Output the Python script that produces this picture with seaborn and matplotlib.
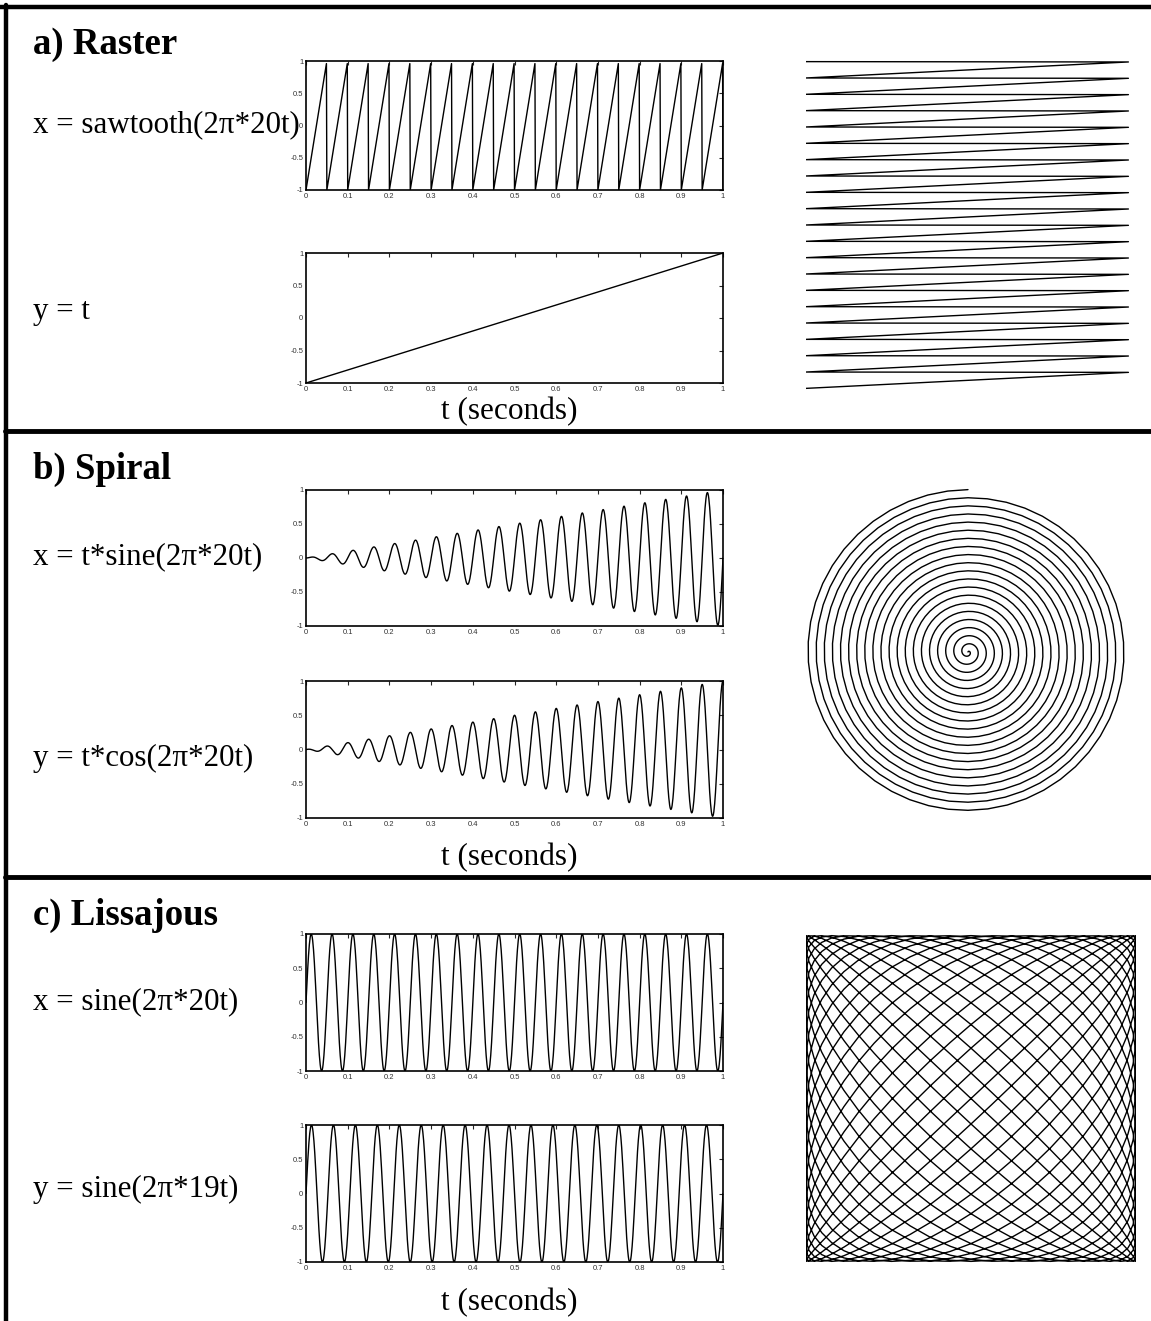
import numpy as np
import pandas as pd
import matplotlib.pyplot as plt
import seaborn as sns

# Panel texts
section_titles = ["a) Raster", "b) Spiral", "c) Lissajous"]
x_formulas = ["x = sawtooth(2π*20t)", "x = t*sine(2π*20t)", "x = sine(2π*20t)"]
y_formulas = ["y = t", "y = t*cos(2π*20t)", "y = sine(2π*19t)"]
time_label = "t (seconds)"

# Signal parameters
x_freq = [20, 20, 20]
y_freq = [0, 20, 19]
n_samples = 1001

# Tick labels
y_ticks = [-1, -0.5, 0, 0.5, 1]
y_tick_labels = ["-1", "-0.5", "0", "0.5", "1"]
x_ticks = [0, 0.1, 0.2, 0.3, 0.4, 0.5, 0.6, 0.7, 0.8, 0.9, 1]
x_tick_labels = ["0", "0.1", "0.2", "0.3", "0.4", "0.5", "0.6", "0.7", "0.8", "0.9", "1"]

t = np.linspace(0, 1, n_samples)
signals = [
    (2 * ((x_freq[0] * t) % 1.0) - 1, 2 * t - 1),
    (t * np.sin(2 * np.pi * x_freq[1] * t), t * np.cos(2 * np.pi * y_freq[1] * t)),
    (np.sin(2 * np.pi * x_freq[2] * t), np.sin(2 * np.pi * y_freq[2] * t)),
]

sns.set_style("white")
plt.rcParams['font.family'] = ['Liberation Serif', 'DejaVu Serif']
plt.rcParams['text.color'] = 'black'

W, H = 1151, 1321
fig = plt.figure(figsize=(W / 100, H / 100), dpi=100)


def box(l, top, r, b):
    return [l / W, 1 - b / H, (r - l) / W, (b - top) / H]


def px(x, y):
    return x / W, 1 - y / H


# frame: top, left and two dividers
frame = fig.add_axes([0, 0, 1, 1], facecolor='none')
frame.set_xlim(0, W)
frame.set_ylim(H, 0)
frame.axis('off')
frame.plot([0, W], [7, 7], color='black', lw=3.2)
frame.plot([6, 6], [5, H], color='black', lw=3.2)
for yd in [431, 877]:
    frame.plot([5, W], [yd, yd], color='black', lw=3.5)

# pixel layout of each panel: (top of x-axes, bottom of x-axes, top of y-axes, bottom of y-axes)
rows = [(61, 190, 253, 383), (490, 626, 681, 818), (934, 1071, 1125, 1262)]
right_boxes = [(806, 60, 1135, 390), (806, 488, 1130, 816), (806, 934, 1136, 1263)]
title_y = [44, 469, 915]
xlab_y = [125, 557, 1002]
ylab_y = [312, 758, 1189]
tlab_y = [412, 858, 1303]


def time_axes(ax, series):
    df = pd.DataFrame({"t": t, "v": series})
    sns.lineplot(data=df, x="t", y="v", ax=ax, color='black', linewidth=1.0,
                 sort=False, estimator=None)
    ax.set_xlim(0, 1)
    ax.set_ylim(-1, 1)
    ax.set_xticks(x_ticks)
    ax.set_xticklabels(x_tick_labels)
    ax.set_yticks(y_ticks)
    ax.set_yticklabels(y_tick_labels)
    ax.tick_params(direction='in', length=3, width=0.8, top=True, right=True,
                   labelsize=5.5, labelcolor='#333333', pad=2)
    for lab in ax.get_xticklabels() + ax.get_yticklabels():
        lab.set_family(['Liberation Sans', 'DejaVu Sans'])
    for s in ax.spines.values():
        s.set_linewidth(1.2)
        s.set_color('black')
    ax.set_xlabel("")
    ax.set_ylabel("")


for i in range(3):
    xs, ys = signals[i]
    xt, xb, yt, yb = rows[i]
    ax1 = fig.add_axes(box(306, xt, 723, xb))
    time_axes(ax1, xs)
    ax2 = fig.add_axes(box(306, yt, 723, yb))
    time_axes(ax2, ys)

    l, tp, r, b = right_boxes[i]
    ax3 = fig.add_axes(box(l, tp, r, b))
    df = pd.DataFrame({"x": xs, "y": ys})
    sns.lineplot(data=df, x="x", y="y", ax=ax3, color='black', linewidth=1.0,
                 sort=False, estimator=None)
    ax3.set_xlim(-1.0, 1.0)
    ax3.set_ylim(-1.01, 1.01)
    ax3.axis('off')

    fig.text(*px(33, title_y[i]), section_titles[i], fontsize=26.5,
             fontweight='bold', va='center')
    fig.text(*px(33, xlab_y[i]), x_formulas[i], fontsize=22.3, va='center')
    fig.text(*px(33, ylab_y[i]), y_formulas[i], fontsize=22.3, va='center')
    fig.text(*px(509, tlab_y[i]), time_label, fontsize=22.5, va='center', ha='center')

fig.savefig("out.png", dpi=100)
